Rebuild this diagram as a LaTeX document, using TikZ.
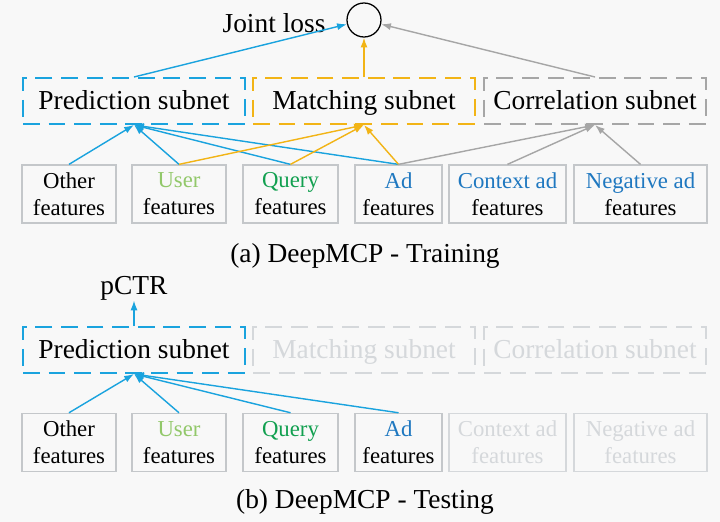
\documentclass[tikz,border=0pt]{standalone}
\usepackage{fontspec}
\setmainfont{Liberation Serif}
\usetikzlibrary{arrows.meta,positioning}

\definecolor{netblue}{HTML}{1AA3DE}
\definecolor{netorange}{HTML}{F2B416}
\definecolor{netgray}{HTML}{A6A6A6}
\definecolor{boxgray}{HTML}{C4C7CA}
\definecolor{fadegray}{HTML}{D5D8DB}
\definecolor{usergreen}{HTML}{92C86A}
\definecolor{querygreen}{HTML}{12A050}
\definecolor{adblue}{HTML}{1F78C0}
\definecolor{bgcolor}{HTML}{F8F8F8}

\begin{document}
\begin{tikzpicture}[
    subnet/.style={rectangle, dash pattern=on 0.42cm off 0.22cm, line width=1.4pt, minimum width=5.55cm, minimum height=1.15cm, inner sep=1pt, text height=16.5pt, text depth=3.7pt, font=\fontsize{19.5}{22}\selectfont},
    feat/.style={rectangle, draw=boxgray, line width=0.9pt, minimum height=1.45cm, align=center, inner sep=1pt, font=\fontsize{16.2}{19.2}\selectfont},
    faded/.style={feat, draw=fadegray, text=fadegray},
    bconn/.style={-{Latex[length=7pt,width=5pt]}, draw=netblue, fill=netblue, line width=1pt},
    oconn/.style={-{Latex[length=7pt,width=5pt]}, draw=netorange, fill=netorange, line width=1pt},
    gconn/.style={-{Latex[length=7pt,width=5pt]}, draw=netgray, fill=netgray, line width=1pt},
    lab/.style={font=\fontsize{19.5}{22}\selectfont, inner sep=0pt, text height=16.5pt, text depth=3.7pt}
]
\useasboundingbox (0,0) rectangle (18,13.05);
\fill[bgcolor] (0,0) rectangle (18,13.05);

% (a) training
\node[circle, draw, line width=0.9pt, minimum size=0.85cm] (loss) at (9.1,12.55) {};
\node[lab] (jl) at (6.85,12.45) {Joint loss};

\node[subnet, draw=netblue] (pa) at (3.35,10.525) {Prediction subnet};
\node[subnet, draw=netorange] (ma) at (9.1,10.525) {Matching subnet};
\node[subnet, draw=netgray] (ca) at (14.875,10.525) {Correlation subnet};

\node[feat, minimum width=2.35cm] (fa1) at (1.725,8.2) {Other\\features};
\node[feat, minimum width=2.35cm] (fa2) at (4.475,8.2) {\textcolor{usergreen}{User}\\features};
\node[feat, minimum width=2.375cm] (fa3) at (7.2625,8.2) {\textcolor{querygreen}{Query}\\features};
\node[feat, minimum width=2.175cm] (fa4) at (9.9625,8.2) {\textcolor{adblue}{Ad}\\features};
\node[feat, minimum width=2.925cm] (fa5) at (12.6875,8.2) {\textcolor{adblue}{Context ad}\\features};
\node[feat, minimum width=3.325cm] (fa6) at (16.0125,8.2) {\textcolor{adblue}{Negative ad}\\features};

\draw[bconn] (pa.north) -- (loss);
\draw[oconn] (ma.north) -- (loss.south);
\draw[gconn] (ca.north) -- (loss);
\foreach \i in {1,...,4} {
    \draw[bconn] (fa\i.north) -- (pa.south);
}
\foreach \i in {2,3,4} {
    \draw[oconn] (fa\i.north) -- (ma.south);
}
\foreach \i in {4,5,6} {
    \draw[gconn] (fa\i.north) -- (ca.south);
}

\node[lab] (capa) at (9.125,6.7) {(a) DeepMCP - Training};

% (b) testing
\node[lab] (pctr) at (3.35,5.9) {pCTR};

\node[subnet, draw=netblue] (pb) at (3.35,4.3) {Prediction subnet};
\node[subnet, draw=fadegray, text=fadegray] (mb) at (9.1,4.3) {Matching subnet};
\node[subnet, draw=fadegray, text=fadegray] (cb) at (14.875,4.3) {Correlation subnet};

\node[feat, minimum width=2.35cm] (fb1) at (1.725,1.99) {Other\\features};
\node[feat, minimum width=2.35cm] (fb2) at (4.475,1.99) {\textcolor{usergreen}{User}\\features};
\node[feat, minimum width=2.375cm] (fb3) at (7.2625,1.99) {\textcolor{querygreen}{Query}\\features};
\node[feat, minimum width=2.175cm] (fb4) at (9.9625,1.99) {\textcolor{adblue}{Ad}\\features};
\node[faded, minimum width=2.925cm] (fb5) at (12.6875,1.99) {Context ad\\features};
\node[faded, minimum width=3.325cm] (fb6) at (16.0125,1.99) {Negative ad\\features};

\draw[bconn] (pb.north) -- (pctr.south);
\foreach \i in {1,...,4} {
    \draw[bconn] (fb\i.north) -- (pb.south);
}

\node[lab] (capb) at (9.125,0.55) {(b) DeepMCP - Testing};
\end{tikzpicture}
\end{document}
